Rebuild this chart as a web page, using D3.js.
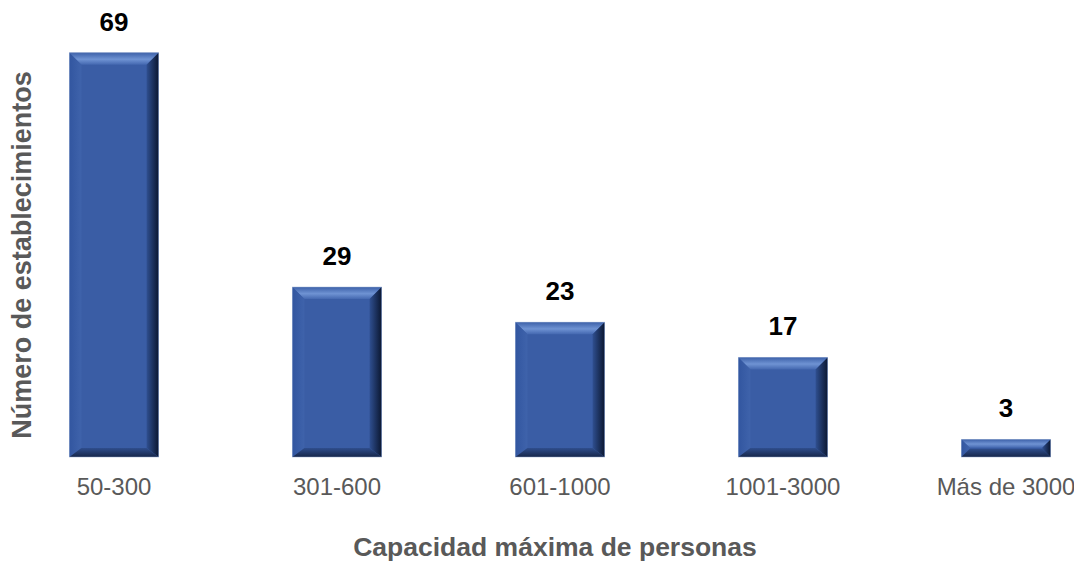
<!DOCTYPE html>
<html>
<head>
<meta charset="utf-8">
<script src="https://cdnjs.cloudflare.com/ajax/libs/d3/7.8.5/d3.min.js"></script>
<style>
  html, body { margin: 0; padding: 0; background: #fff; }
  svg { display: block; font-family: "Liberation Sans", Arial, sans-serif; }
</style>
</head>
<body>
<div id="chart"></div>
<script>
var categories = ["50-300", "301-600", "601-1000", "1001-3000", "Más de 3000"];
var values = [69, 29, 23, 17, 3];
var xTitle = "Capacidad máxima de personas";
var yTitle = "Número de establecimientos";

function init() {
    var w = 1074;
    var h = 563;
    var baseY = 457;   // bottom of the bars

    var svg = d3.select("#chart")
        .append("svg")
        .attr("width", w)
        .attr("height", h);

    var xScale = d3.scaleBand()
        .domain(categories)
        .range([2.5, 1117.5])
        .paddingInner(0.6)
        .paddingOuter(0.3);

    var yScale = d3.scaleLinear()
        .domain([0, 69])
        .range([baseY, 52.7]);

    // gradients for the bevelled look
    var defs = svg.append("defs");
    function grad(id, x2, y2, stops) {
        var g = defs.append("linearGradient")
            .attr("id", id)
            .attr("x1", 0).attr("y1", 0)
            .attr("x2", x2).attr("y2", y2);
        stops.forEach(function(s) {
            g.append("stop").attr("offset", s[0]).attr("stop-color", s[1]);
        });
    }
    grad("gTop", 0, 1, [["0%", "#3d61a9"], ["55%", "#6f93d3"], ["100%", "#4468b0"]]);
    grad("gLeft", 1, 0, [["0%", "#3256a0"], ["100%", "#3f63ab"]]);
    grad("gRight", 1, 0, [["0%", "#2f4f90"], ["100%", "#0b1731"]]);
    grad("gBottom", 0, 1, [["0%", "#2f4e8d"], ["100%", "#16264a"]]);

    var bars = svg.selectAll(".bar")
        .data(values)
        .enter()
        .append("g")
        .attr("class", "bar");

    bars.each(function(d, i) {
        var g = d3.select(this);
        var x0 = xScale(categories[i]);
        var x1 = x0 + xScale.bandwidth();
        var y0 = yScale(d);
        var y1 = yScale(0);
        var b = Math.min(12, (y1 - y0) / 2.1);
        var bs = Math.min(9, (y1 - y0) / 2.1);

        g.append("rect")
            .attr("x", x0).attr("y", y0)
            .attr("width", x1 - x0).attr("height", y1 - y0)
            .attr("fill", "#3a5da5");

        function poly(pts, fill) {
            g.append("polygon")
                .attr("points", pts.map(function(p) { return p.join(","); }).join(" "))
                .attr("fill", fill);
        }
        poly([[x0, y0], [x1, y0], [x1 - b, y0 + b], [x0 + b, y0 + b]], "url(#gTop)");
        poly([[x0, y0], [x0 + b, y0 + b], [x0 + b, y1 - bs], [x0, y1]], "url(#gLeft)");
        poly([[x1, y0], [x1, y1], [x1 - b, y1 - bs], [x1 - b, y0 + b]], "url(#gRight)");
        poly([[x0, y1], [x0 + b, y1 - bs], [x1 - b, y1 - bs], [x1, y1]], "url(#gBottom)");

        g.append("rect")
            .attr("x", x0).attr("y", y0)
            .attr("width", x1 - x0).attr("height", y1 - y0)
            .attr("fill", "none")
            .attr("stroke", "#8ea5cf")
            .attr("stroke-opacity", 0.6)
            .attr("stroke-width", 0.8);
    });

    // value labels
    svg.selectAll(".val")
        .data(values)
        .enter()
        .append("text")
        .attr("class", "val")
        .attr("x", function(d, i) { return xScale(categories[i]) + xScale.bandwidth() / 2; })
        .attr("y", function(d) { return yScale(d) - 22; })
        .attr("text-anchor", "middle")
        .style("font-size", "26px")
        .style("font-weight", "bold")
        .style("fill", "#000")
        .text(function(d) { return d; });

    // x axis (labels only)
    var xAxis = d3.axisBottom(xScale).tickSize(0).tickPadding(0);
    var ax = svg.append("g")
        .attr("class", "x axis")
        .attr("transform", "translate(0," + baseY + ")")
        .call(xAxis);
    ax.select(".domain").remove();
    ax.selectAll("text")
        .attr("dy", null)
        .attr("y", 38)
        .style("font-family", "Liberation Sans, Arial, sans-serif")
        .style("font-size", "24px")
        .style("fill", "#595959");

    svg.append("text")
        .attr("x", 555)
        .attr("y", 556)
        .attr("text-anchor", "middle")
        .style("font-size", "26.5px")
        .style("font-weight", "bold")
        .style("fill", "#595959")
        .text(xTitle);

    svg.append("text")
        .attr("transform", "translate(31,255) rotate(-90)")
        .attr("text-anchor", "middle")
        .style("font-size", "27px")
        .style("font-weight", "bold")
        .style("fill", "#595959")
        .text(yTitle);
}

window.onload = init;
</script>
</body>
</html>
